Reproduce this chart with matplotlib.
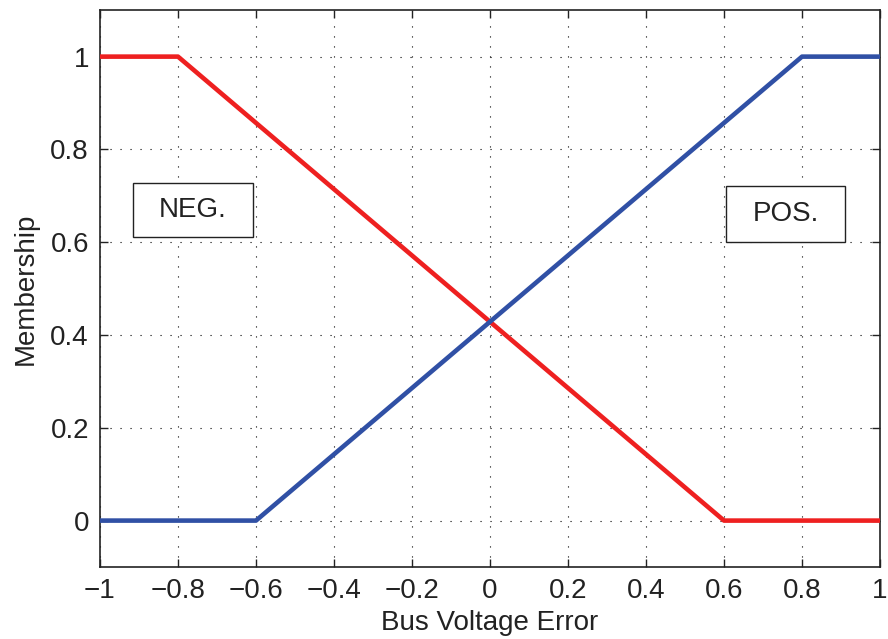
import numpy as np
import matplotlib
matplotlib.use("Agg")
import matplotlib.pyplot as plt
from matplotlib.patches import Rectangle

plt.rcParams['font.family'] = ['Liberation Sans', 'DejaVu Sans']

# membership function breakpoints
negX = [-1.0, -0.8, 0.6, 1.0]
negY = [1.0, 1.0, 0.0, 0.0]
posX = [-1.0, -0.6, 0.8, 1.0]
posY = [0.0, 0.0, 1.0, 1.0]

xTicks = [-1, -0.8, -0.6, -0.4, -0.2, 0, 0.2, 0.4, 0.6, 0.8, 1]
yTicks = [0, 0.2, 0.4, 0.6, 0.8, 1]

# label boxes: (text, x0, y0, x1, y1)
boxes = [
    ("NEG.", -0.915, 0.611, -0.608, 0.728),
    ("POS.", 0.605, 0.600, 0.910, 0.721),
]


def fmt(v):
    if v == 0:
        return "0"
    s = ("%g" % v).replace("-", "\u2212")
    return s


def main():
    fig = plt.figure(figsize=(8.88, 6.39), dpi=100)
    ax = fig.add_axes([0.1126, 0.1127, 0.991 - 0.1126, 0.984 - 0.1127])

    ax.plot(negX, negY, color="#ee2020", lw=3.3, solid_capstyle="butt", zorder=3)
    ax.plot(posX, posY, color="#3050a5", lw=3.3, solid_capstyle="butt", zorder=3)

    ax.set_xlim(-1, 1)
    ax.set_ylim(-0.1, 1.1)
    ax.set_xticks(xTicks)
    ax.set_xticklabels([fmt(v) for v in xTicks])
    ax.set_yticks(yTicks)
    ax.set_yticklabels([fmt(v) for v in yTicks])
    ax.tick_params(direction="in", length=6, width=1, labelsize=20,
                   top=True, right=True, pad=8, colors="#222222")
    ax.grid(True, color="black", linestyle=(0, (1, 8)), linewidth=0.8)

    for s in ax.spines.values():
        s.set_linewidth(1.2)
        s.set_color("#222222")

    ax.set_xlabel("Bus Voltage Error", fontsize=20, labelpad=4, color="#222222")
    ax.set_ylabel("Membership", fontsize=20, labelpad=8, color="#222222")

    for text, x0, y0, x1, y1 in boxes:
        ax.add_patch(Rectangle((x0, y0), x1 - x0, y1 - y0, facecolor="white",
                               edgecolor="#222222", lw=1.0, zorder=4))
        ax.text((x0 + x1) / 2, (y0 + y1) / 2, text, ha="center", va="center",
                fontsize=20, color="#222222", zorder=5)

    fig.savefig("out.png", dpi=100)


if __name__ == '__main__':
    main()
